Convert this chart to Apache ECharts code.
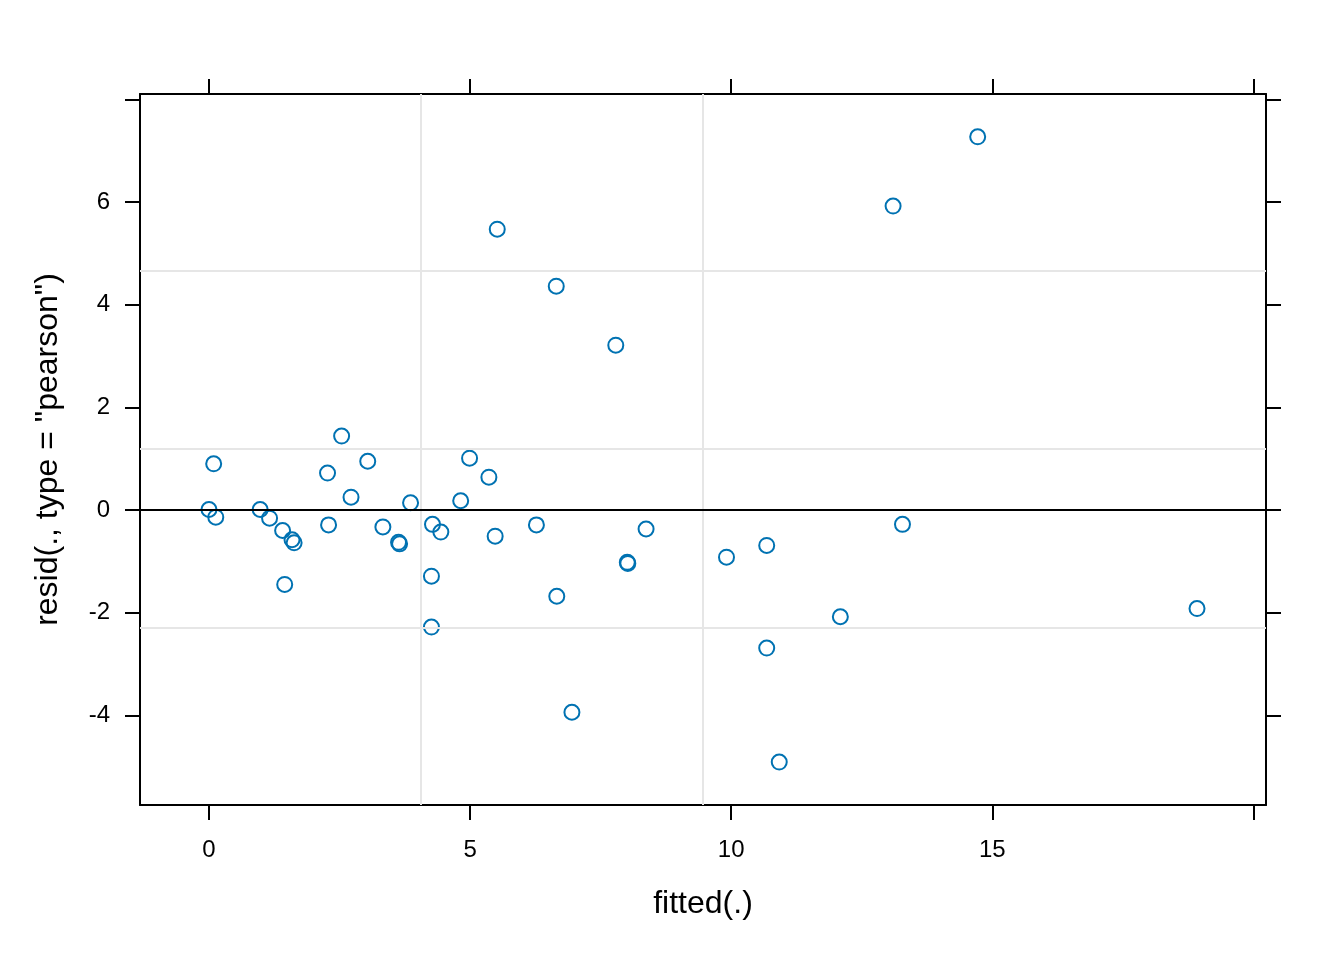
<!DOCTYPE html>
<html>
<head>
<meta charset="utf-8">
<script src="https://cdn.jsdelivr.net/npm/echarts@6/dist/echarts.min.js"></script>
<style>
html,body{margin:0;padding:0;background:#fff;}
#chart{width:1344px;height:960px;}
</style>
</head>
<body>
<div id="chart"></div>
<script>
// fitted values and Pearson residuals
const fittedVals = [0.09, 2.54, 2.27, 3.04, 2.72, 4.99, 5.36, 3.86, 4.82, 0.00, 0.13, 0.98, 1.16, 1.41, 1.59, 1.63, 2.29, 3.33, 3.63, 3.65, 4.28, 4.44, 5.48, 4.26, 4.26, 1.45, 6.27, 8.37, 8.01, 8.02, 6.66, 5.52, 6.65, 7.79, 13.10, 14.72, 13.28, 9.91, 10.68, 10.68, 12.09, 10.92, 18.92, 6.95];
const residVals  = [0.90, 1.44, 0.72, 0.95, 0.25, 1.01, 0.64, 0.14, 0.18, 0.01, -0.14, 0.01, -0.16, -0.40, -0.58, -0.64, -0.29, -0.33, -0.63, -0.66, -0.28, -0.43, -0.51, -1.29, -2.28, -1.45, -0.29, -0.37, -1.02, -1.04, -1.68, 5.47, 4.36, 3.21, 5.92, 7.27, -0.28, -0.92, -0.69, -2.69, -2.08, -4.91, -1.92, -3.94];

const xTicks = [0, 5, 10, 15, 20];
const xTickLabels = [0, 5, 10, 15];
const yTicks = [-4, -2, 0, 2, 4, 6, 8];
const yTickLabels = [-4, -2, 0, 2, 4, 6];

// reference (grid) lines
const vRefLines = [4.06, 9.455];
const hRefLines = [4.656, 1.188, -2.299];
const zeroLine = [0];

const xRange = [-1.321, 20.241];
const yRange = [-5.747, 8.104];

const FONT = 'Liberation Sans, Arial, sans-serif';
const points = fittedVals.map((x, i) => [x, residVals[i]]);

const chart = echarts.init(document.getElementById('chart'));

function xAx(pos, labels) {
  return {
    type: 'value', position: pos, min: xRange[0], max: xRange[1],
    axisLine: { show: true, onZero: false, lineStyle: { color: '#000', width: 2 } },
    axisTick: { show: true, inside: false, length: 15, lineStyle: { color: '#000', width: 2 }, customValues: xTicks },
    axisLabel: labels ? { show: true, customValues: xTickLabels, margin: 33, fontSize: 24, color: '#000', fontFamily: FONT } : { show: false },
    splitLine: { show: false },
    name: labels ? 'fitted(.)' : '',
    nameLocation: 'middle', nameGap: 83,
    nameTextStyle: { fontSize: 32, color: '#000', fontFamily: FONT }
  };
}
function yAx(pos, labels) {
  return {
    type: 'value', position: pos, min: yRange[0], max: yRange[1],
    axisLine: { show: true, onZero: false, lineStyle: { color: '#000', width: 2 } },
    axisTick: { show: true, inside: false, length: 15, lineStyle: { color: '#000', width: 2 }, customValues: yTicks },
    axisLabel: labels ? { show: true, customValues: yTickLabels, margin: 30, fontSize: 24, color: '#000', fontFamily: FONT } : { show: false },
    splitLine: { show: false },
    name: labels ? 'resid(., type = "pearson")' : '',
    nameLocation: 'middle', nameGap: 76, nameRotate: 90,
    nameTextStyle: { fontSize: 32, color: '#000', fontFamily: FONT }
  };
}

const greyLines = vRefLines.map(v => ({ xAxis: v }))
  .concat(hRefLines.map(v => ({ yAxis: v })));

chart.setOption({
  animation: false,
  backgroundColor: '#fff',
  grid: { left: 140, top: 94, right: 78, bottom: 155, containLabel: false },
  xAxis: [xAx('bottom', true), xAx('top', false)],
  yAxis: [yAx('left', true), yAx('right', false)],
  series: [
    {
      type: 'scatter', data: [], z: 1, silent: true,
      markLine: {
        silent: true, symbol: 'none', label: { show: false }, animation: false,
        lineStyle: { color: '#e6e6e6', width: 2, type: 'solid' },
        data: greyLines
      }
    },
    {
      type: 'scatter', data: [], z: 2, silent: true,
      markLine: {
        silent: true, symbol: 'none', label: { show: false }, animation: false,
        lineStyle: { color: '#000', width: 2, type: 'solid' },
        data: zeroLine.map(v => ({ yAxis: v }))
      }
    },
    {
      type: 'scatter', z: 3,
      data: points,
      symbol: 'circle', symbolSize: 15,
      itemStyle: { color: 'rgba(0,0,0,0)', borderColor: '#0072B2', borderWidth: 2, opacity: 1 }
    }
  ]
});
</script>
</body>
</html>
